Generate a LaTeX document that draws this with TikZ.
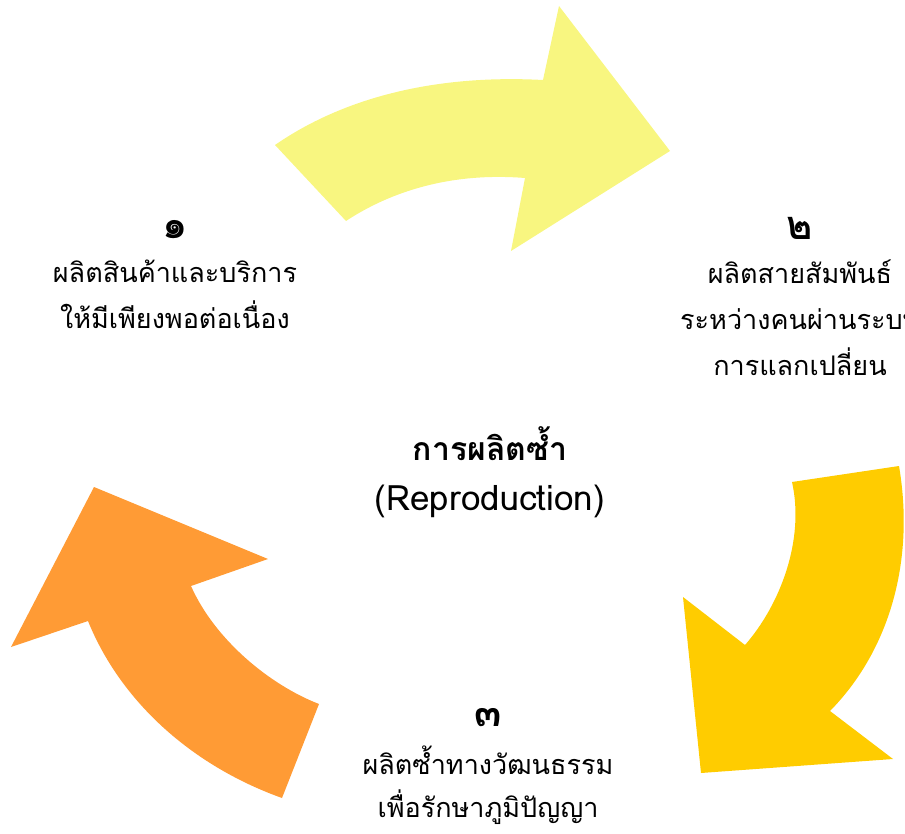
\documentclass[tikz,border=0pt]{standalone}
\usepackage{fontspec}
\newfontfamily\thaifont[Script=Thai]{Loma}
\usetikzlibrary{positioning}
\definecolor{paleyellow}{HTML}{F8F680}
\definecolor{gold}{HTML}{FFCC00}
\definecolor{tangerine}{HTML}{FF9B35}

\begin{document}
\begin{tikzpicture}[x=1pt, y=-1pt,
    num/.style={font=\thaifont\bfseries\fontsize{40}{44}\selectfont, inner sep=0pt},
    desc/.style={font=\thaifont\fontsize{27}{46}\selectfont, align=center, inner sep=0pt},
    hub/.style={font=\thaifont\fontsize{32}{50}\selectfont, align=center, inner sep=0pt}
]
\useasboundingbox (0,0) rectangle (905,834);

% curved arrows
\fill[paleyellow] (275,145) .. controls (340,100) and (430,74) .. (543,80) -- (559,6) -- (670,151)
    -- (511,251) -- (525,178) .. controls (450,172) and (390,192) .. (346,221) -- cycle;
\fill[gold] (899,466) .. controls (915,560) and (890,650) .. (830,711) -- (893,759) -- (701,773)
    -- (683,597) -- (745,645) .. controls (780,605) and (805,540) .. (792,482) -- cycle;
\fill[tangerine] (282,798) -- (319,704) .. controls (270,685) and (215,640) .. (191,586) -- (268,559)
    -- (94,487) -- (11,647) -- (88,621) .. controls (120,700) and (190,765) .. (282,798) -- cycle;

% steps
\node[num] (one) at (175,230) {๑};
\node[desc, below=20pt of one] (onetext) {ผลิตสินค้าและบริการ\\ให้มีเพียงพอต่อเนื่อง};

\node[num] (two) at (800,228) {๒};
\node[desc, below=20pt of two] (twotext) {ผลิตสายสัมพันธ์\\ระหว่างคนผ่านระบบ\\การแลกเปลี่ยน};

\node[num] (three) at (488,718) {๓};
\node[desc, below=18pt of three, font=\thaifont\fontsize{27}{43}\selectfont] (threetext) {ผลิตซ้ำทางวัฒนธรรม\\เพื่อรักษาภูมิปัญญา};

% centre
\node[hub] (centre) at (490,472) {\textbf{การผลิตซ้ำ}\\{\fontsize{35}{50}\selectfont(Reproduction)}};
\end{tikzpicture}
\end{document}
